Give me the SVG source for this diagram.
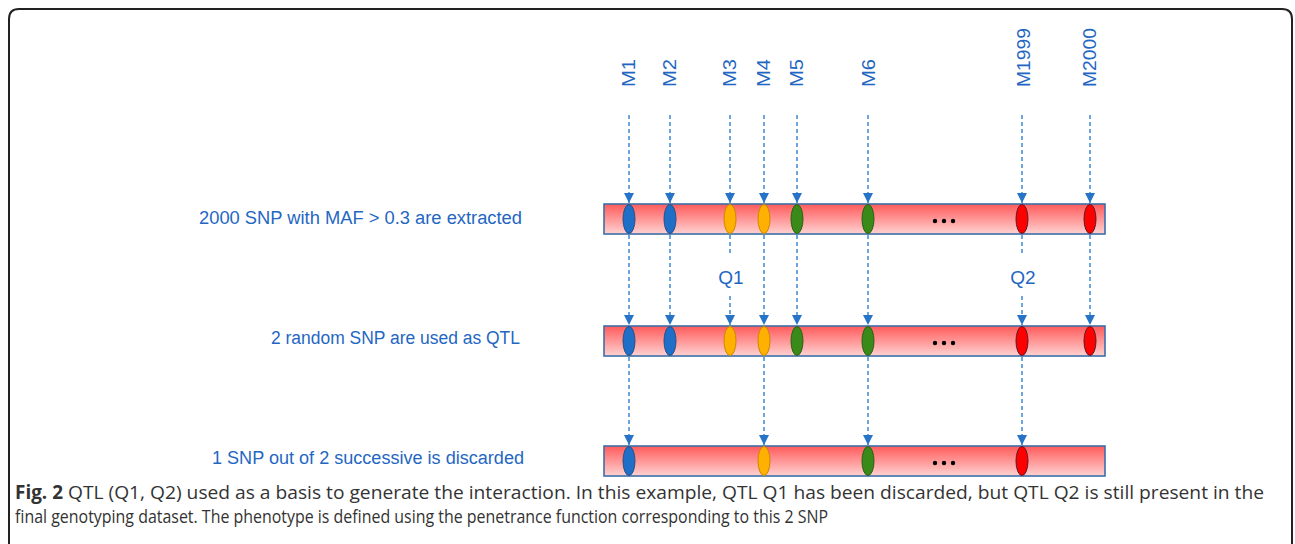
<svg xmlns="http://www.w3.org/2000/svg" width="1295" height="544" viewBox="0 0 1295 544">
<defs>
<linearGradient id="barGrad" x1="0" y1="0" x2="0" y2="1">
<stop offset="0" stop-color="#ff5a5a"/>
<stop offset="1" stop-color="#ffd2d2"/>
</linearGradient>
<marker id="arr" viewBox="0 0 10 10" refX="10" refY="5" markerWidth="10" markerHeight="10" markerUnits="userSpaceOnUse" orient="auto">
<path d="M0,0 L10,5 L0,10 Z" fill="#2673c8"/>
</marker>
<style>
.lbl{font-family:"Liberation Sans",Arial,sans-serif;font-size:18px;fill:#1f67c2;}
.mk{font-family:"Liberation Sans",Arial,sans-serif;font-size:19px;fill:#1f67c2;}
.cap{font-family:"Open Sans","Liberation Sans",sans-serif;font-size:19px;fill:#333;}
.bar{fill:url(#barGrad);stroke:#3d6fa8;stroke-width:1.6;}
.dash{stroke:#4a8fd6;stroke-width:1.6;stroke-dasharray:4 3;fill:none;}
.b{fill:#1f6fc8;stroke:#274f85;stroke-width:1;}
.o{fill:#ffb000;stroke:#c98a00;stroke-width:1;}
.g{fill:#3a8a1a;stroke:#2a5f14;stroke-width:1;}
.r{fill:#ff0000;stroke:#5a1a2a;stroke-width:1;}
.dots{fill:#000;}
</style>
</defs>
<rect x="0" y="0" width="1295" height="544" fill="#fff"/>
<path d="M9,560 L9,19 Q9,9 19,9 L1282,9 Q1292,9 1292,19 L1292,560" fill="none" stroke="#222" stroke-width="2"/>

<g id="marker-labels">
<text class="mk" transform="translate(635,87) rotate(-90)" textLength="28" lengthAdjust="spacingAndGlyphs">M1</text>
<text class="mk" transform="translate(676,87) rotate(-90)" textLength="28" lengthAdjust="spacingAndGlyphs">M2</text>
<text class="mk" transform="translate(736,87) rotate(-90)" textLength="28" lengthAdjust="spacingAndGlyphs">M3</text>
<text class="mk" transform="translate(770,87) rotate(-90)" textLength="28" lengthAdjust="spacingAndGlyphs">M4</text>
<text class="mk" transform="translate(803,87) rotate(-90)" textLength="28" lengthAdjust="spacingAndGlyphs">M5</text>
<text class="mk" transform="translate(875,87) rotate(-90)" textLength="28" lengthAdjust="spacingAndGlyphs">M6</text>
<text class="mk" transform="translate(1030,87) rotate(-90)" textLength="59" lengthAdjust="spacingAndGlyphs">M1999</text>
<text class="mk" transform="translate(1096,87) rotate(-90)" textLength="59" lengthAdjust="spacingAndGlyphs">M2000</text>
</g>

<g id="step-labels">
<text class="lbl" x="522" y="224" text-anchor="end" textLength="323" lengthAdjust="spacingAndGlyphs">2000  SNP with MAF &gt; 0.3 are extracted</text>
<text class="lbl" x="520" y="344" text-anchor="end" textLength="249" lengthAdjust="spacingAndGlyphs">2 random SNP are used as QTL</text>
<text class="lbl" x="524" y="464" text-anchor="end" textLength="312" lengthAdjust="spacingAndGlyphs">1 SNP out of 2 successive is discarded</text>
</g>

<g id="connectors">
<line class="dash" x1="629" y1="115" x2="629" y2="203" marker-end="url(#arr)"/>
<line class="dash" x1="670" y1="115" x2="670" y2="203" marker-end="url(#arr)"/>
<line class="dash" x1="730" y1="115" x2="730" y2="203" marker-end="url(#arr)"/>
<line class="dash" x1="764" y1="115" x2="764" y2="203" marker-end="url(#arr)"/>
<line class="dash" x1="797" y1="115" x2="797" y2="203" marker-end="url(#arr)"/>
<line class="dash" x1="868" y1="115" x2="868" y2="203" marker-end="url(#arr)"/>
<line class="dash" x1="1022" y1="115" x2="1022" y2="203" marker-end="url(#arr)"/>
<line class="dash" x1="1090" y1="115" x2="1090" y2="203" marker-end="url(#arr)"/>

<line class="dash" x1="629" y1="235" x2="629" y2="325" marker-end="url(#arr)"/>
<line class="dash" x1="670" y1="235" x2="670" y2="325" marker-end="url(#arr)"/>
<line class="dash" x1="730" y1="235" x2="730" y2="254"/>
<line class="dash" x1="730" y1="296" x2="730" y2="325" marker-end="url(#arr)"/>
<line class="dash" x1="764" y1="235" x2="764" y2="325" marker-end="url(#arr)"/>
<line class="dash" x1="797" y1="235" x2="797" y2="325" marker-end="url(#arr)"/>
<line class="dash" x1="868" y1="235" x2="868" y2="325" marker-end="url(#arr)"/>
<line class="dash" x1="1022" y1="235" x2="1022" y2="254"/>
<line class="dash" x1="1022" y1="296" x2="1022" y2="325" marker-end="url(#arr)"/>
<line class="dash" x1="1090" y1="235" x2="1090" y2="325" marker-end="url(#arr)"/>

<line class="dash" x1="629" y1="357" x2="629" y2="445" marker-end="url(#arr)"/>
<line class="dash" x1="764" y1="357" x2="764" y2="445" marker-end="url(#arr)"/>
<line class="dash" x1="868" y1="357" x2="868" y2="445" marker-end="url(#arr)"/>
<line class="dash" x1="1022" y1="357" x2="1022" y2="445" marker-end="url(#arr)"/>
</g>

<g id="qtl-labels">
<text class="mk" x="731" y="284" text-anchor="middle">Q1</text>
<text class="mk" x="1023" y="284" text-anchor="middle">Q2</text>
</g>

<g id="bar1">
<rect class="bar" x="604" y="204" width="501" height="30"/>
<ellipse class="b" cx="629" cy="219" rx="6" ry="14.5"/>
<ellipse class="b" cx="670" cy="219" rx="6" ry="14.5"/>
<ellipse class="o" cx="730" cy="219" rx="6" ry="14.5"/>
<ellipse class="o" cx="764" cy="219" rx="6" ry="14.5"/>
<ellipse class="g" cx="797" cy="219" rx="6" ry="14.5"/>
<ellipse class="g" cx="868" cy="219" rx="6" ry="14.5"/>
<ellipse class="r" cx="1022" cy="219" rx="6" ry="14.5"/>
<ellipse class="r" cx="1090" cy="219" rx="6" ry="14.5"/>
<circle class="dots" cx="935" cy="221" r="2.2"/><circle class="dots" cx="944" cy="221" r="2.2"/><circle class="dots" cx="953" cy="221" r="2.2"/>
</g>

<g id="bar2">
<rect class="bar" x="604" y="326" width="501" height="30"/>
<ellipse class="b" cx="629" cy="341" rx="6" ry="14.5"/>
<ellipse class="b" cx="670" cy="341" rx="6" ry="14.5"/>
<ellipse class="o" cx="730" cy="341" rx="6" ry="14.5"/>
<ellipse class="o" cx="764" cy="341" rx="6" ry="14.5"/>
<ellipse class="g" cx="797" cy="341" rx="6" ry="14.5"/>
<ellipse class="g" cx="868" cy="341" rx="6" ry="14.5"/>
<ellipse class="r" cx="1022" cy="341" rx="6" ry="14.5"/>
<ellipse class="r" cx="1090" cy="341" rx="6" ry="14.5"/>
<circle class="dots" cx="935" cy="343" r="2.2"/><circle class="dots" cx="944" cy="343" r="2.2"/><circle class="dots" cx="953" cy="343" r="2.2"/>
</g>

<g id="bar3">
<rect class="bar" x="604" y="446" width="501" height="30"/>
<ellipse class="b" cx="629" cy="461" rx="6" ry="14.5"/>
<ellipse class="o" cx="764" cy="461" rx="6" ry="14.5"/>
<ellipse class="g" cx="868" cy="461" rx="6" ry="14.5"/>
<ellipse class="r" cx="1022" cy="461" rx="6" ry="14.5"/>
<circle class="dots" cx="935" cy="463" r="2.2"/><circle class="dots" cx="944" cy="463" r="2.2"/><circle class="dots" cx="953" cy="463" r="2.2"/>
</g>

<g id="caption">
<text class="cap" x="15" y="499" font-weight="bold" fill="#222" textLength="48" lengthAdjust="spacingAndGlyphs">Fig. 2</text>
<text class="cap" x="68" y="499" textLength="1196" lengthAdjust="spacingAndGlyphs">QTL (Q1, Q2) used as a basis to generate the interaction. In this example, QTL Q1 has been discarded, but QTL Q2 is still present in the</text>
<text class="cap" x="15" y="523" textLength="813" lengthAdjust="spacingAndGlyphs">final genotyping dataset. The phenotype is defined using the penetrance function corresponding to this 2 SNP</text>
</g>
</svg>
